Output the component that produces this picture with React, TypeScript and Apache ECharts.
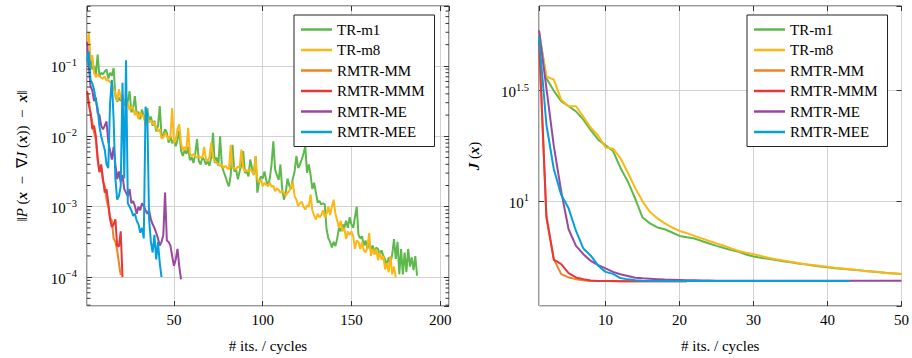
import { useEffect, useRef } from "react";
import * as echarts from "echarts";

const FONT = "Liberation Serif";

const seriesNames = ["TR-m1", "TR-m8", "RMTR-MM", "RMTR-MMM", "RMTR-ME", "RMTR-MEE"];
const seriesColors = ["#5db94b", "#fdb714", "#f58025", "#e8363b", "#9b479f", "#069fdd"];

// Left chart: log10 of ||P(x - grad J(x)) - x|| per iteration (starting at 1)
const trM1Res = [
  -0.95, -1.0, -0.92, -1.05, -1.0, -1.12, -0.84, -1.15, -1.1, -1.12,
  -1.08, -1.05, -1.18, -1.1, -1.14, -1.03, -1.43, -1.51, -1.45, -1.5,
  -1.42, -1.55, -1.57, -1.5, -1.36, -1.66, -1.6, -1.43, -1.7, -1.65,
  -1.76, -1.62, -1.72, -1.81, -1.6, -1.8, -1.72, -1.85, -1.78, -1.93,
  -1.85, -1.57, -2.0, -1.98, -1.9, -1.95, -2.09, -2.0, -2.1, -2.05,
  -2.14, -2.05, -1.92, -2.2, -2.28, -2.2, -2.25, -2.15, -2.34, -2.3,
  -2.38, -2.25, -2.04, -2.35, -2.4, -2.3, -2.33, -2.4, -2.35, -2.42,
  -2.3, -1.95, -2.38, -2.3, -2.42, -2.0, -2.42, -2.5, -2.57, -2.65,
  -2.71, -2.55, -2.12, -2.5, -2.47, -2.61, -2.5, -2.4, -2.21, -2.52,
  -2.5, -2.57, -2.33, -2.45, -2.55, -2.28, -2.8, -2.65, -2.57, -2.6,
  -2.5, -2.62, -2.71, -2.6, -2.4, -2.07, -2.47, -2.55, -2.62, -2.4,
  -2.75, -2.9, -2.8, -2.6, -2.7, -2.75, -2.6, -2.5, -2.28, -2.45,
  -2.4, -2.33, -2.25, -2.14, -2.52, -2.4, -2.55, -2.75, -2.66, -2.8,
  -2.94, -2.92, -2.97, -2.95, -2.97, -3.32, -3.45, -3.5, -3.58, -3.5,
  -3.56, -3.45, -3.3, -3.35, -3.25, -3.3, -3.2, -3.3, -3.15, -3.25,
  -3.3, -3.15, -3.0, -3.4, -3.45, -3.42, -3.55, -3.48, -3.6, -3.5,
  -3.62, -3.55, -3.65, -3.58, -3.6, -3.68, -3.62, -3.7, -3.75, -3.84,
  -3.72, -3.8, -3.68, -3.46, -3.74, -3.5, -3.96, -3.6, -3.96, -3.65,
  -3.93, -3.6, -3.85, -3.72, -3.9, -3.7, -3.98,
];
const trM8Res = [
  -0.75, -0.52, -0.92, -0.85, -1.1, -1.16, -1.12, -1.15, -1.17, -1.18,
  -1.15, -1.21, -1.2, -1.23, -1.25, -1.33, -1.38, -1.5, -1.33, -1.45,
  -1.5, -1.48, -1.55, -1.52, -1.63, -1.58, -1.6, -1.7, -1.65, -1.76,
  -1.66, -1.72, -1.7, -1.86, -1.72, -1.8, -1.78, -1.83, -1.8, -1.88,
  -1.93, -1.9, -2.03, -2.02, -1.95, -2.0, -2.05, -2.0, -1.6, -2.1,
  -2.05, -1.9, -1.83, -2.1, -2.2, -2.15, -2.2, -1.88, -2.25, -2.28,
  -2.25, -2.28, -2.3, -2.28, -2.3, -2.3, -2.15, -2.32, -2.35, -2.3,
  -2.09, -2.3, -2.35, -2.38, -2.4, -2.42, -2.4, -2.45, -2.42, -2.45,
  -2.47, -2.12, -2.45, -2.45, -2.47, -2.43, -2.45, -2.19, -2.45, -2.5,
  -2.48, -2.5, -2.47, -2.5, -2.55, -2.28, -2.61, -2.65, -2.62, -2.71,
  -2.66, -2.69, -2.7, -2.66, -2.72, -2.7, -2.78, -2.74, -2.76, -2.8,
  -2.78, -2.8, -2.85, -2.8, -2.78, -2.71, -2.65, -2.85, -2.9, -2.99,
  -2.95, -2.93, -3.0, -3.04, -2.98, -3.0, -2.83, -3.05, -3.13, -3.18,
  -3.1, -3.15, -3.12, -3.05, -3.15, -3.1, -3.0, -3.12, -3.0, -2.9,
  -3.1, -3.2, -3.3, -3.2, -3.35, -3.3, -3.46, -3.35, -3.4, -3.35,
  -3.42, -3.6, -3.48, -3.5, -3.6, -3.5, -3.62, -3.65, -3.58, -3.37,
  -3.7, -3.6, -3.68, -3.6, -3.76, -3.65, -3.75, -3.7, -3.89, -3.8,
  -3.93, -3.7, -3.96, -3.85, -4.0,
];
const rmtrMMRes = [
  -1.36, -1.5, -1.67, -1.8, -1.95, -2.05, -2.35, -2.5, -2.45, -2.65,
  -2.7, -2.9, -3.0, -3.15, -3.2, -3.45, -3.5, -3.62, -3.8, -3.97,
];
const rmtrMMMRes = [
  -1.36, -1.55, -1.67, -1.9, -1.85, -2.0, -2.3, -2.51, -2.4, -2.6,
  -2.8, -2.75, -2.95, -3.18, -3.29, -3.25, -3.18, -3.56, -3.56, -3.35,
  -4.0,
];
const rmtrMERes = [
  -0.66, -1.0, -1.29, -1.35, -1.5, -1.45, -1.67, -1.7, -1.85, -1.9,
  -1.85, -1.79, -2.08, -2.2, -2.33, -2.15, -2.4, -2.61, -2.5, -2.65,
  -2.55, -2.75, -2.8, -2.85, -2.75, -2.95, -2.92, -2.99, -3.1, -3.0,
  -3.05, -2.95, -2.99, -3.05, -3.1, -3.05, -3.18, -3.25, -3.3, -3.37,
  -3.45, -3.55, -3.5, -3.4, -2.8, -3.48, -3.5, -3.55, -3.7, -3.84,
  -3.75, -3.6, -3.85, -4.03,
];
const rmtrMEERes = [
  -0.94, -0.8, -1.2, -1.25, -1.34, -1.5, -1.6, -1.86, -2.0, -2.1,
  -2.19, -2.4, -2.45, -1.52, -1.2, -1.76, -2.6, -2.9, -2.85, -2.71,
  -1.24, -2.6, -0.92, -2.95, -3.0, -3.05, -3.13, -3.1, -3.2, -3.25,
  -3.37, -3.3, -3.45, -1.58, -1.7, -3.18, -3.5, -3.65, -3.4, -3.75,
  -3.5, -3.8, -4.0,
];

// Right chart: J(x) per iteration (starting at 1)
const trM1J = [
  58.5, 36.0, 31.6, 28.4, 26.9, 25.5, 23.4, 21.0, 19.0, 17.9,
  16.9, 14.2, 12.3, 10.3, 8.45, 7.95, 7.62, 7.48, 7.23, 6.98,
  6.88, 6.79, 6.62, 6.45, 6.29, 6.15, 6.02, 5.91, 5.75, 5.63,
  5.56, 5.5, 5.43, 5.36, 5.3, 5.24, 5.19, 5.13, 5.08, 5.03,
  4.99, 4.96, 4.92, 4.89, 4.85, 4.82, 4.78, 4.75, 4.72, 4.69,
];
const trM8J = [
  57.5, 36.7, 35.5, 28.8, 26.9, 26.9, 24.1, 21.5, 19.8, 17.5,
  17.3, 15.7, 13.5, 11.5, 10.0, 8.95, 8.38, 7.95, 7.62, 7.35,
  7.18, 6.98, 6.8, 6.62, 6.46, 6.3, 6.12, 5.97, 5.86, 5.77,
  5.66, 5.56, 5.47, 5.4, 5.33, 5.27, 5.2, 5.15, 5.1, 5.06,
  5.01, 4.97, 4.93, 4.89, 4.85, 4.82, 4.79, 4.75, 4.72, 4.69,
];
const rmtrMMJ = [
  53.7, 8.6, 5.48, 4.69, 4.53, 4.45, 4.4, 4.37, 4.36, 4.36,
  4.35, 4.35, 4.35, 4.35, 4.35, 4.35, 4.35, 4.35, 4.35, 4.35, 4.35,
];
const rmtrMMMJ = [
  53.7, 8.5, 5.45, 5.2, 4.74, 4.53, 4.45, 4.39, 4.37, 4.36,
  4.36, 4.35, 4.35, 4.35, 4.35, 4.35, 4.35, 4.35, 4.35, 4.35, 4.35,
];
const rmtrMEJ = [
  59.2, 32.5, 17.8, 11.1, 7.48, 6.29, 5.77, 5.38, 5.15, 4.98,
  4.8, 4.68, 4.6, 4.52, 4.49, 4.47, 4.45, 4.43, 4.42, 4.41,
  4.4, 4.4, 4.39, 4.39, 4.38, 4.38, 4.38, 4.38, 4.38, 4.38,
  4.38, 4.38, 4.38, 4.38, 4.38, 4.38, 4.38, 4.38, 4.38, 4.38,
  4.38, 4.38, 4.38, 4.38, 4.38, 4.38, 4.38, 4.38, 4.38, 4.38,
];
const rmtrMEEJ = [
  55.6, 22.2, 14.0, 10.7, 9.3, 7.35, 6.12, 5.68, 5.12, 4.8,
  4.7, 4.5, 4.44, 4.4, 4.38, 4.37, 4.36, 4.36, 4.36, 4.36,
  4.36, 4.36, 4.36, 4.36, 4.36, 4.36, 4.36, 4.36, 4.36, 4.36,
  4.36, 4.36, 4.36, 4.36, 4.36, 4.36, 4.36, 4.36, 4.36, 4.36,
  4.36, 4.36, 4.36,
];

const leftSeries = [trM1Res, trM8Res, rmtrMMRes, rmtrMMMRes, rmtrMERes, rmtrMEERes];
const rightSeries = [trM1J, trM8J, rmtrMMJ, rmtrMMMJ, rmtrMEJ, rmtrMEEJ];

// log-axis decorations for the left chart (decades -5..-1, minor ticks at 2..9)
const leftDecades = [-5, -4, -3, -2, -1];
const minorFactors = [2, 3, 4, 5, 6, 7, 8, 9];

const LEFT_Y = { min: -4.41, max: -0.15 };
const RIGHT_Y = { min: 0.527, max: 1.883 };

const AXIS_COLOR = "#333";
const GRID_COLOR = "#d2d2d2";

const powLabel = (v: number) => {
  const e = Math.round(v * 10) / 10;
  return `{b|10}{s|${String(e).replace("-", "\u2212")}}`;
};
const powRich = {
  b: { fontFamily: FONT, fontSize: 15, lineHeight: 18, verticalAlign: "bottom", color: "#000" },
  s: { fontFamily: FONT, fontSize: 10.5, lineHeight: 11, verticalAlign: "top", color: "#000" },
};

function xAxisMain(gridIndex: number, min: number, max: number, step: number, showMax: boolean) {
  return {
    type: "value",
    gridIndex,
    min,
    max,
    minInterval: step,
    maxInterval: step,
    axisLine: { show: false },
    axisTick: { show: true, inside: true, length: 5, lineStyle: { color: AXIS_COLOR } },
    axisLabel: {
      fontFamily: FONT,
      fontSize: 15,
      color: "#000",
      margin: 6,
      showMinLabel: false,
      showMaxLabel: showMax,
    },
    splitLine: { show: true, lineStyle: { color: GRID_COLOR, width: 1 } },
    name: "# its. / cycles",
    nameLocation: "middle",
    nameGap: 32,
    nameTextStyle: { fontFamily: FONT, fontSize: 15, color: "#000" },
  };
}
function xAxisMirror(gridIndex: number, min: number, max: number, step: number) {
  return {
    type: "value",
    gridIndex,
    position: "top",
    min,
    max,
    minInterval: step,
    maxInterval: step,
    axisLine: { show: false },
    axisTick: { show: true, inside: true, length: 5, lineStyle: { color: AXIS_COLOR } },
    axisLabel: { show: false },
    splitLine: { show: false },
  };
}
function yAxisMirror(gridIndex: number, min: number, max: number, step: number) {
  return {
    type: "value",
    gridIndex,
    position: "right",
    min,
    max,
    minInterval: step,
    maxInterval: step,
    axisLine: { show: false },
    axisTick: { show: true, inside: true, length: 5, lineStyle: { color: AXIS_COLOR } },
    axisLabel: { show: false },
    splitLine: { show: false },
  };
}

const nameRichBase = { fontFamily: FONT, fontSize: 15, color: "#000" };

function buildOption() {
  const minorVals: number[][] = [];
  leftDecades.forEach((d) =>
    minorFactors.forEach((k) => {
      const v = d + Math.log10(k);
      if (v > LEFT_Y.min && v < LEFT_Y.max) minorVals.push([1, v]);
    })
  );

  const series: any[] = [];
  leftSeries.forEach((arr, s) => {
    series.push({
      type: "line",
      name: seriesNames[s],
      xAxisIndex: 0,
      yAxisIndex: 0,
      data: arr.map((v, k) => [k + 1, v]),
      showSymbol: false,
      symbol: "none",
      lineStyle: { width: 2, color: seriesColors[s] },
      itemStyle: { color: seriesColors[s] },
      z: 3,
    });
  });
  rightSeries.forEach((arr, s) => {
    series.push({
      type: "line",
      name: seriesNames[s],
      xAxisIndex: 2,
      yAxisIndex: 2,
      data: arr.map((v, k) => [k + 1, Math.log10(v)]),
      showSymbol: false,
      symbol: "none",
      lineStyle: { width: 2, color: seriesColors[s] },
      itemStyle: { color: seriesColors[s] },
      z: 3,
    });
  });
  series.push({
    type: "custom",
    name: "minor-ticks",
    xAxisIndex: 0,
    yAxisIndex: 0,
    silent: true,
    clip: false,
    z: 4,
    data: minorVals,
    encode: { x: 0, y: 1 },
    renderItem: (params: any, api: any) => {
      const cs = params.coordSys;
      const y = api.coord([1, api.value(1)])[1];
      const st = { stroke: AXIS_COLOR, lineWidth: 1 };
      return {
        type: "group",
        children: [
          { type: "line", shape: { x1: cs.x, y1: y, x2: cs.x + 3.5, y2: y }, style: st },
          { type: "line", shape: { x1: cs.x + cs.width - 3.5, y1: y, x2: cs.x + cs.width, y2: y }, style: st },
        ],
      };
    },
  });

  const legendBase = {
    orient: "vertical",
    top: 15,
    data: seriesNames,
    icon: "rect",
    itemWidth: 31,
    itemHeight: 2.5,
    itemGap: 5.5,
    padding: [7, 10, 7, 7],
    borderColor: "#222",
    borderWidth: 1,
    backgroundColor: "#fff",
    selectedMode: false,
    textStyle: { fontFamily: FONT, fontSize: 15, color: "#000", lineHeight: 15 },
    z: 10,
  };

  return {
    animation: false,
    backgroundColor: "#fff",
    textStyle: { fontFamily: FONT },
    grid: [
      { left: 87, top: 6, width: 362, height: 301, show: true, borderColor: AXIS_COLOR, borderWidth: 1, backgroundColor: "transparent" },
      { left: 539, top: 6, width: 363, height: 301, show: true, borderColor: AXIS_COLOR, borderWidth: 1, backgroundColor: "transparent" },
    ],
    legend: [
      { ...legendBase, left: 294 },
      { ...legendBase, left: 747 },
    ],
    xAxis: [
      xAxisMain(0, 1, 205, 50, false),
      xAxisMirror(0, 1, 205, 50),
      xAxisMain(1, 1, 50, 10, true),
      xAxisMirror(1, 1, 50, 10),
    ],
    yAxis: [
      {
        type: "value",
        gridIndex: 0,
        min: LEFT_Y.min,
        max: LEFT_Y.max,
        minInterval: 1,
        maxInterval: 1,
        axisLine: { show: false },
        axisTick: { show: true, inside: true, length: 5, lineStyle: { color: AXIS_COLOR } },
        axisLabel: { formatter: powLabel, rich: powRich, margin: 10, showMinLabel: false, showMaxLabel: false },
        splitLine: { show: true, lineStyle: { color: GRID_COLOR, width: 1 } },
        name: "{n|\u2016}{p|P}{n| (}{x|x}{n|  \u2212  \u2207}{p|J}{n| (}{x|x}{n|))  \u2212  }{x|x}{n|\u2016}",
        nameLocation: "middle",
        nameRotate: 90,
        nameGap: 58,
        nameTextStyle: {
          ...nameRichBase,
          rich: {
            n: { ...nameRichBase },
            p: { ...nameRichBase, fontStyle: "italic" },
            x: { ...nameRichBase, fontStyle: "italic", fontWeight: "bold" },
          },
        },
      },
      yAxisMirror(0, LEFT_Y.min, LEFT_Y.max, 1),
      {
        type: "value",
        gridIndex: 1,
        min: RIGHT_Y.min,
        max: RIGHT_Y.max,
        minInterval: 0.5,
        maxInterval: 0.5,
        axisLine: { show: false },
        axisTick: { show: true, inside: true, length: 5, lineStyle: { color: AXIS_COLOR } },
        axisLabel: { formatter: powLabel, rich: powRich, margin: 10, showMinLabel: false, showMaxLabel: false },
        splitLine: { show: true, lineStyle: { color: GRID_COLOR, width: 1 } },
        name: "{p|J}{n| (}{x|x}{n|)}",
        nameLocation: "middle",
        nameRotate: 90,
        nameGap: 58,
        nameTextStyle: {
          ...nameRichBase,
          rich: {
            n: { ...nameRichBase },
            p: { ...nameRichBase, fontStyle: "italic", fontWeight: "bold" },
            x: { ...nameRichBase, fontStyle: "italic", fontWeight: "bold" },
          },
        },
      },
      yAxisMirror(1, RIGHT_Y.min, RIGHT_Y.max, 0.5),
    ],
    series,
  };
}

export default function App() {
  const ref = useRef<HTMLDivElement>(null);
  useEffect(() => {
    if (!ref.current) return;
    const chart = echarts.init(ref.current, undefined, { renderer: "svg" });
    chart.setOption(buildOption() as any);
    return () => chart.dispose();
  }, []);
  return (
    <div
      ref={ref}
      style={{ position: "fixed", left: 0, top: 0, width: 912, height: 358, background: "#fff" }}
    />
  );
}
